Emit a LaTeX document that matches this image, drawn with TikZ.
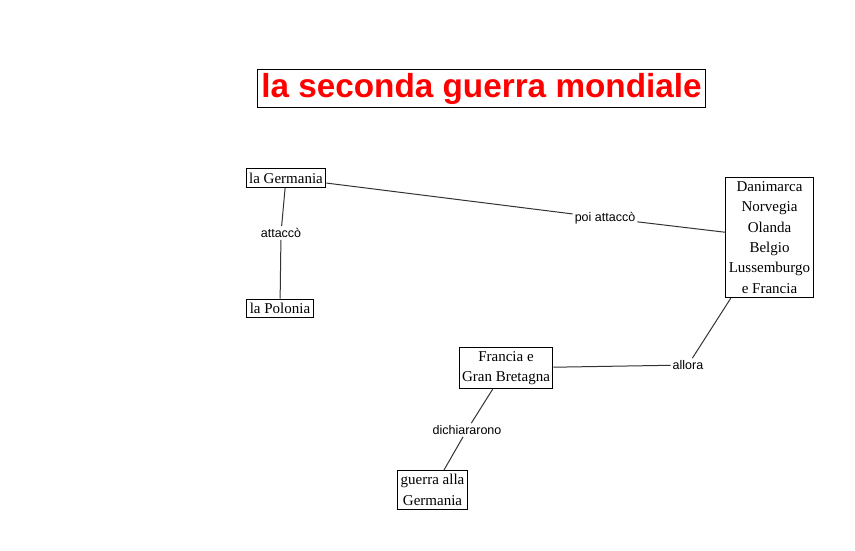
\documentclass[tikz,border=0pt]{standalone}
\usepackage{fontspec}
\setmainfont{Liberation Serif}
\setsansfont{Liberation Sans}
\begin{document}
\begin{tikzpicture}[
  x=1pt, y=-1pt,
  box/.style={draw, line width=1pt, font=\fontsize{15}{20.4}\selectfont,
              align=center, inner xsep=3pt, inner ysep=4pt},
  lbl/.style={font=\sffamily\fontsize{12.5}{14}\selectfont, inner sep=2pt},
  ln/.style={black!80, line width=1pt},
]
\useasboundingbox (0,0) rectangle (855,551);

% Title
\node[draw, line width=1pt, text=red, font=\sffamily\bfseries\fontsize{33.3}{36}\selectfont,
      inner xsep=4pt, inner ysep=3pt] (title) at (481.5,88.5) {la seconda guerra mondiale};

% Concepts
\node[box] (ger) at (286,178) {la Germania};
\node[box] (pol) at (280,308.5) {la Polonia};
\node[box] (paesi) at (769.5,237.5) {Danimarca\\Norvegia\\Olanda\\Belgio\\Lussemburgo\\e Francia};
\node[box] (fgb) at (506,368) {Francia e\\Gran Bretagna};
\node[box] (guerra) at (432.5,490) {guerra alla\\Germania};

% Link words
\node[lbl] (att) at (281,233) {attaccò};
\node[lbl] (poiatt) at (605,218) {poi attaccò};
\node[lbl] (allora) at (688,365) {allora};
\node[lbl] (dich) at (467,430) {dichiararono};

% Connectors
\draw[ln] (ger) -- (att) -- (pol);
\draw[ln] (ger) -- (poiatt) -- (paesi);
\draw[ln] (paesi) -- (allora) -- (fgb);
\draw[ln] (fgb) -- (dich) -- (guerra);
\end{tikzpicture}
\end{document}
